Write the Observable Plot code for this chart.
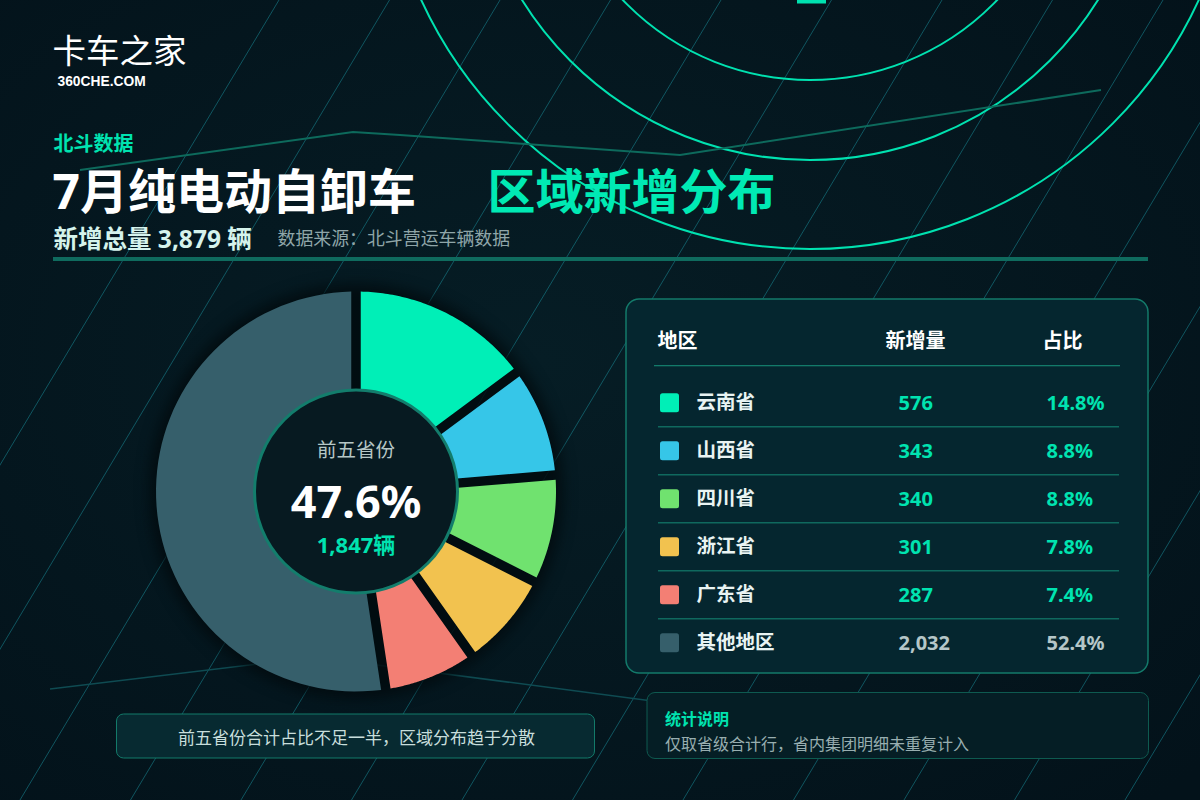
<!DOCTYPE html>
<html>
<head>
<meta charset="utf-8">
<script src="https://cdn.jsdelivr.net/npm/d3@7"></script>
<script src="https://cdn.jsdelivr.net/npm/@observablehq/plot@0.6"></script>
<style>
html, body { margin: 0; padding: 0; }
body { width: 1200px; height: 800px; overflow: hidden; background: #04161d; position: relative; }
#bg, #chart { position: absolute; left: 0; top: 0; }
</style>
</head>
<body>
<svg id="bg" width="1200" height="800"></svg>
<div id="chart"></div>
<script>
// ---------- data ----------
const regions = ["云南省", "山西省", "四川省", "浙江省", "广东省", "其他地区"];
const counts = [576, 343, 340, 301, 287, 2032];
const shares = ["14.8%", "8.8%", "8.8%", "7.8%", "7.4%", "52.4%"];
const colors = ["#00EFB7", "#36C6E8", "#70E26F", "#F2C24F", "#F37F74", "#365F6B"];
const tableHeaders = ["地区", "新增量", "占比"];
const totalCount = 3879;
const topFiveCount = 1847;
const topFiveShare = "47.6%";
const brand = "卡车之家";
const brandSite = "360CHE.COM";
const kicker = "北斗数据";
const titleMain = "7月纯电动自卸车";
const titleAccent = "区域新增分布";
const totalLine = "新增总量 3,879 辆";
const sourceLine = "数据来源：北斗营运车辆数据";
const centerLabel = "前五省份";
const noteLeft = "前五省份合计占比不足一半，区域分布趋于分散";
const noteTitle = "统计说明";
const noteBody = "仅取省级合计行，省内集团明细未重复计入";

// ---------- background decoration ----------
const bg = d3.select("#bg");
const defs = bg.append("defs");
const rg = defs.append("radialGradient").attr("id", "bgg").attr("cx", "45%").attr("cy", "45%").attr("r", "75%");
rg.append("stop").attr("offset", "0%").attr("stop-color", "#061d25");
rg.append("stop").attr("offset", "100%").attr("stop-color", "#03121a");
bg.append("rect").attr("width", 1200).attr("height", 800).attr("fill", "url(#bgg)");
for (let k = 0; k < 15; k++) {
  const x0 = 279 + 110.5 * k;
  bg.append("line").attr("x1", x0).attr("y1", 0).attr("x2", x0 - 0.6 * 800).attr("y2", 800)
    .attr("stroke", "#1a8a98").attr("stroke-opacity", 0.55).attr("stroke-width", 1);
}
[259, 339, 428].forEach(r => {
  bg.append("circle").attr("cx", 810).attr("cy", -179).attr("r", r)
    .attr("fill", "none").attr("stroke", "#00E2B0").attr("stroke-width", 2);
});
bg.append("rect").attr("x", 797).attr("y", 0).attr("width", 29).attr("height", 3.5).attr("fill", "#00E2B0");
bg.append("polyline").attr("points", "80,170 353,132 400,135 680,155 1101,90")
  .attr("fill", "none").attr("stroke", "#0d6a5c").attr("stroke-width", 2);
bg.append("polyline").attr("points", "50,689 316,657 660,702")
  .attr("fill", "none").attr("stroke", "#0f4b52").attr("stroke-width", 1.5);

// ---------- chart ----------
const FONT = '"Noto Sans", "Noto Sans CJK SC", sans-serif';
const rows = regions.map((name, i) => ({ name, count: counts[i], share: shares[i] }));
const fmt = d3.format(",");

// donut geometry
const CX = 355.5, CY = 491, R = 200, R0 = 90, GAP = 9.5;
const arcs = d3.pie().sort(null).value(d => d.count)(rows);
const slicePts = [];
arcs.forEach(a => {
  const oa = Math.asin(GAP / 2 / R), ia = Math.asin(GAP / 2 / R0);
  const n = 72;
  const pts = [];
  for (let k = 0; k <= n; k++) pts.push([R, a.startAngle + oa + (a.endAngle - a.startAngle - 2 * oa) * k / n]);
  for (let k = 0; k <= n; k++) pts.push([R0, a.endAngle - ia - (a.endAngle - a.startAngle - 2 * ia) * k / n]);
  pts.forEach(([rr, t]) => slicePts.push({ name: a.data.name, x: CX + rr * Math.sin(t), y: CY - rr * Math.cos(t) }));
});

const rowY = i => 402.7 + 48 * i;
const center = [{ x: CX, y: CY }];

const chart = Plot.plot({
  width: 1200, height: 800,
  marginTop: 0, marginRight: 0, marginBottom: 0, marginLeft: 0,
  style: { background: "transparent", overflow: "hidden" },
  x: { domain: [0, 1200], range: [0, 1200], axis: null },
  y: { domain: [0, 800], range: [0, 800], axis: null },
  color: { domain: regions, range: colors },
  marks: [
    // header texts
    Plot.text([brand], { x: 52, y: 52, text: d => d, textAnchor: "start", fill: "#ffffff", fontSize: 33.5, fontFamily: FONT, fontWeight: 400 }),
    Plot.text([brandSite], { x: 57, y: 81.5, text: d => d, textAnchor: "start", fill: "#ffffff", fontSize: 13.8, fontFamily: '"Liberation Sans", Arial, sans-serif', fontWeight: "bold" }),
    Plot.text([kicker], { x: 53, y: 144, text: d => d, textAnchor: "start", fill: "#00E3B0", fontSize: 20, fontFamily: FONT, fontWeight: "bold" }),
    Plot.text([titleMain], { x: 52, y: 193, text: d => d, textAnchor: "start", fill: "#ffffff", fontSize: 48, fontFamily: FONT, fontWeight: "bold" }),
    Plot.text([titleAccent], { x: 487, y: 193, text: d => d, textAnchor: "start", fill: "#00EAB4", fontSize: 48, fontFamily: FONT, fontWeight: "bold" }),
    Plot.text([totalLine], { x: 53, y: 239.5, text: d => d, textAnchor: "start", fill: "#d5f3ec", fontSize: 24.5, fontFamily: FONT, fontWeight: "bold" }),
    Plot.text([sourceLine], { x: 277, y: 239, text: d => d, textAnchor: "start", fill: "#8fa6a9", fontSize: 17.9, fontFamily: FONT, fontWeight: 400 }),
    Plot.rect([0], { x1: 53, x2: 1148, y1: 257, y2: 261, fill: "#0f6b5e" }),

    // donut shadow
    Plot.dot(center, { x: "x", y: "y", r: 207, fill: "#010a0e", fillOpacity: 0.85, stroke: "none" }),
    // slices
    Plot.line(slicePts, { x: "x", y: "y", z: "name", fill: "name", stroke: "none", curve: "linear" }),
    // inner disk
    Plot.dot(center, { x: "x", y: "y", r: 101.5, fill: "#071a21", stroke: "#137d6c", strokeWidth: 3 }),
    Plot.text([centerLabel], { x: CX, y: 450, text: d => d, fill: "#b6c7c6", fontSize: 19.5, fontFamily: FONT, fontWeight: 400 }),
    Plot.text([topFiveShare], { x: CX, y: 503, text: d => d, fill: "#ffffff", fontSize: 45, fontFamily: FONT, fontWeight: "bold" }),
    Plot.text([fmt(topFiveCount) + "辆"], { x: CX, y: 545, text: d => d, fill: "#00E3B0", fontSize: 22, fontFamily: FONT, fontWeight: "bold" }),

    // table panel
    Plot.rect([0], { x1: 626, x2: 1148, y1: 299, y2: 673, rx: 13, fill: "#05262f", stroke: "#137a6a", strokeWidth: 1.5 }),
    Plot.text(tableHeaders.slice(0, 1), { x: 657, y: 341, text: d => d, textAnchor: "start", fill: "#ffffff", fontSize: 20, fontFamily: FONT, fontWeight: "bold" }),
    Plot.text(tableHeaders.slice(1), { x: (d, i) => [915, 1062][i], y: 341, text: d => d, textAnchor: "middle", fill: "#ffffff", fontSize: 20, fontFamily: FONT, fontWeight: "bold" }),
    Plot.rect([0], { x1: 654, x2: 1120, y1: 365, y2: 366.3, fill: "#137a6a" }),
    Plot.rect(rows.slice(0, 5), { x1: 658, x2: 1119, y1: (d, i) => rowY(i) + 23.5, y2: (d, i) => rowY(i) + 24.7, fill: "#137a6a" }),
    Plot.rect(rows, { x1: 660, x2: 679, y1: (d, i) => rowY(i) - 9.5, y2: (d, i) => rowY(i) + 9.5, fill: "name", rx: 2.5 }),
    Plot.text(rows, { x: 696, y: (d, i) => rowY(i), text: "name", textAnchor: "start", fill: "#e9f4f3", fontSize: 19.5, fontFamily: FONT, fontWeight: "bold" }),
    Plot.text(rows, { filter: d => d.name !== "其他地区", x: 898, y: (d, i) => rowY(i), text: d => fmt(d.count), textAnchor: "start", fill: "#00E3B0", fontSize: 20, fontFamily: FONT, fontWeight: "bold" }),
    Plot.text(rows, { filter: d => d.name !== "其他地区", x: 1046, y: (d, i) => rowY(i), text: "share", textAnchor: "start", fill: "#00E3B0", fontSize: 20, fontFamily: FONT, fontWeight: "bold" }),
    Plot.text(rows, { filter: d => d.name === "其他地区", x: 898, y: (d, i) => rowY(i), text: d => fmt(d.count), textAnchor: "start", fill: "#b5c6c8", fontSize: 20, fontFamily: FONT, fontWeight: "bold" }),
    Plot.text(rows, { filter: d => d.name === "其他地区", x: 1046, y: (d, i) => rowY(i), text: "share", textAnchor: "start", fill: "#b5c6c8", fontSize: 20, fontFamily: FONT, fontWeight: "bold" }),

    // bottom notes
    Plot.rect([0], { x1: 116.5, x2: 594.5, y1: 714, y2: 758, rx: 7, fill: "#072a31", stroke: "#137a6a", strokeWidth: 1 }),
    Plot.text([noteLeft], { x: 356, y: 738.5, text: d => d, fill: "#c8dedc", fontSize: 17, fontFamily: FONT, fontWeight: 400 }),
    Plot.rect([0], { x1: 647, x2: 1148.5, y1: 692.5, y2: 758.5, rx: 8, fill: "#051e25", stroke: "#0e5a50", strokeWidth: 1 }),
    Plot.text([noteTitle], { x: 664.5, y: 719, text: d => d, textAnchor: "start", fill: "#00E3B0", fontSize: 16, fontFamily: FONT, fontWeight: "bold" }),
    Plot.text([noteBody], { x: 664.5, y: 744, text: d => d, textAnchor: "start", fill: "#98aeb0", fontSize: 16, fontFamily: FONT, fontWeight: 400 })
  ]
});
document.getElementById("chart").appendChild(chart);
const shadow = chart.querySelector('g[aria-label="dot"]');
if (shadow) shadow.style.filter = "blur(7px)";
</script>
</body>
</html>
